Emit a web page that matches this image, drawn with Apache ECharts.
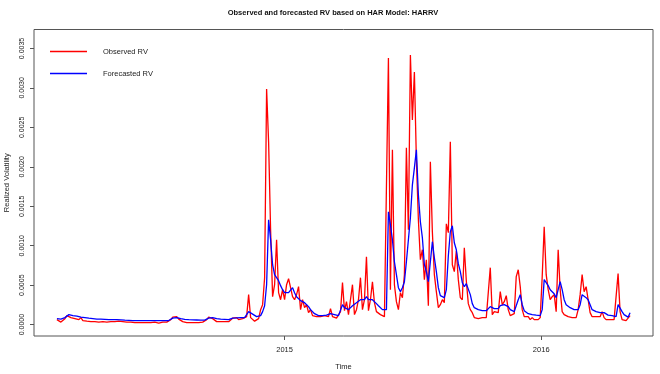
<!DOCTYPE html>
<html>
<head>
<meta charset="utf-8">
<script src="https://cdn.jsdelivr.net/npm/echarts@6/dist/echarts.min.js"></script>
<style>html,body{margin:0;padding:0;background:#fff}#c{width:660px;height:374px}</style>
</head>
<body>
<div id="c"></div>
<script>
// Regular time series: first observation (fractional year) and spacing
const startYear = 2014.1128;
const stepYear = 0.007782;
const xTickLabels = [2015, 2016];
const yTickValues = [0, 0.0005, 0.001, 0.0015, 0.002, 0.0025, 0.003, 0.0035];
const seriesNames = ['Observed RV', 'Forecasted RV'];

const observedRV = [
0.000063,0.000038,0.000032,0.000051,0.000076,0.000114,0.000133,0.000089,0.000114,0.000076,0.000101,0.000063,
0.000089,0.000051,0.000076,0.000044,0.000063,0.000038,0.000057,0.000038,0.000044,0.000032,0.000051,0.000038,
0.000044,0.000032,0.000044,0.000038,0.000025,0.000038,0.000032,0.000044,0.000032,0.000038,0.000025,0.000032,
0.000025,0.000032,0.000019,0.000025,0.000032,0.000025,0.000019,0.000025,0.000032,0.000025,0.000019,0.000025,
0.000025,0.000032,0.000025,0.000019,0.000025,0.000032,0.000025,0.000032,0.000038,0.000063,0.000095,0.000082,
0.000101,0.00007,0.000051,0.000038,0.000032,0.000025,0.000032,0.000025,0.000038,0.000025,0.000032,0.000025,
0.000038,0.000032,0.000038,0.000063,0.000095,0.000108,0.000076,0.000051,0.000038,0.000032,0.000038,0.000025,
0.000038,0.000032,0.000038,0.000063,0.000082,0.00007,0.000089,0.000063,0.000082,0.000076,0.000089,0.000101,
0.00038,0.000089,0.000076,0.000044,0.000051,0.000076,0.00019,0.000253,0.000595,0.002987,0.002316,0.001203,
0.000354,0.000506,0.001076,0.000405,0.000316,0.000443,0.000316,0.000506,0.000582,0.00057,0.000354,0.000316,
0.00038,0.000481,0.00019,0.000316,0.000215,0.000253,0.000152,0.00019,0.000114,0.000089,0.000101,0.000082,
0.000101,0.000089,0.000114,0.000089,0.000101,0.000203,0.000101,0.000089,0.000082,0.000101,0.000165,0.000532,
0.000177,0.000291,0.000127,0.000139,0.000506,0.000127,0.00019,0.000316,0.000595,0.00019,0.000316,0.000861,
0.000177,0.000316,0.000544,0.000278,0.000165,0.00019,0.000127,0.000152,0.000101,0.000114,0.00338,0.000443,
0.002215,0.000506,0.000291,0.00019,0.000405,0.000342,0.000633,0.00224,0.001203,0.003418,0.002595,0.003202,
0.002089,0.001329,0.000823,0.000949,0.00057,0.000823,0.00024,0.002063,0.001177,0.000633,0.000418,0.000215,
0.000253,0.000316,0.000278,0.001278,0.001165,0.002316,0.000759,0.000671,0.000937,0.00057,0.000342,0.000316,
0.000975,0.000557,0.000266,0.00019,0.000152,0.000089,0.000114,0.000076,0.000101,0.000089,0.000101,0.000089,
0.000114,0.000722,0.000127,0.000165,0.000177,0.000152,0.000418,0.000253,0.000291,0.000367,0.00019,0.000114,
0.000089,0.000139,0.000608,0.000696,0.000481,0.00019,0.000101,0.000076,0.000101,0.000063,0.000089,0.000063,
0.000082,0.000063,0.000089,0.000608,0.00124,0.000633,0.000443,0.000316,0.000354,0.00038,0.000165,0.000949,
0.000443,0.000165,0.000127,0.000114,0.000101,0.000114,0.000089,0.000101,0.000089,0.00019,0.00038,0.000633,
0.000418,0.000481,0.000316,0.000152,0.000101,0.000089,0.000101,0.000089,0.000101,0.000165,0.000089,0.000063,
0.000076,0.000063,0.00007,0.000063,0.000057,0.000646,0.000165,0.000063,0.000044,0.000051,0.000044,0.000114
];

const forecastedRV = [
0.000076,0.00007,0.00007,0.000076,0.000089,0.000108,0.000127,0.00012,0.000114,0.000101,0.000108,0.000095,
0.000095,0.000089,0.000089,0.000082,0.000082,0.000076,0.000076,0.000072,0.00007,0.00007,0.00007,0.000067,
0.000067,0.000063,0.000063,0.000063,0.000063,0.000063,0.000063,0.000061,0.000061,0.000059,0.000057,0.000057,
0.000054,0.000051,0.00005,0.000051,0.000052,0.000051,0.00005,0.000049,0.00005,0.000051,0.00005,0.000049,
0.00005,0.000051,0.00005,0.000049,0.00005,0.000051,0.00005,0.000051,0.000052,0.000063,0.000082,0.000095,
0.000089,0.000082,0.000076,0.00007,0.000067,0.000063,0.000063,0.000061,0.00006,0.000059,0.000059,0.000058,
0.000057,0.000057,0.000058,0.00007,0.000082,0.000095,0.000089,0.000082,0.000076,0.00007,0.00007,0.000067,
0.000067,0.000063,0.000063,0.00007,0.000082,0.000082,0.000085,0.000082,0.000089,0.000082,0.000089,0.000095,
0.000165,0.000152,0.000133,0.000114,0.000101,0.000101,0.000114,0.000165,0.00024,0.000506,0.001329,0.001076,
0.000759,0.000633,0.000595,0.000557,0.000494,0.000443,0.000405,0.00038,0.000405,0.00043,0.000468,0.000405,
0.000354,0.000342,0.000304,0.000291,0.000278,0.000253,0.000228,0.00019,0.000165,0.000139,0.000127,0.000114,
0.000108,0.000114,0.000127,0.00012,0.000127,0.000139,0.000152,0.000127,0.000114,0.000114,0.000139,0.000253,
0.000215,0.000228,0.00019,0.00019,0.00024,0.000215,0.000278,0.000291,0.000316,0.000291,0.000316,0.000354,
0.000316,0.000291,0.000316,0.000304,0.000266,0.00024,0.000215,0.00019,0.000177,0.00019,0.00143,0.001266,
0.001076,0.000797,0.000633,0.000468,0.000418,0.000468,0.000544,0.000797,0.001076,0.001354,0.001772,0.001987,
0.002215,0.001646,0.001304,0.001101,0.000759,0.000671,0.000544,0.000797,0.001051,0.000848,0.000671,0.000468,
0.000367,0.000342,0.000342,0.000443,0.000873,0.001177,0.001253,0.001038,0.000949,0.000772,0.000671,0.000532,
0.000481,0.000519,0.000544,0.00038,0.000266,0.000215,0.00019,0.00019,0.000177,0.000177,0.000171,0.000177,
0.00019,0.000228,0.00024,0.000203,0.00019,0.000203,0.00024,0.000253,0.000253,0.00024,0.000228,0.00019,
0.000177,0.000165,0.00019,0.000316,0.00038,0.000253,0.000177,0.000152,0.000139,0.000127,0.000127,0.000127,
0.00012,0.000114,0.000114,0.00019,0.00057,0.000595,0.000494,0.000443,0.000418,0.000392,0.000342,0.000367,
0.000544,0.000443,0.000316,0.000253,0.000228,0.000215,0.000203,0.00019,0.000177,0.00019,0.000253,0.00038,
0.000367,0.000342,0.000316,0.000253,0.00019,0.000177,0.000165,0.000165,0.000152,0.000165,0.000152,0.000127,
0.00012,0.000114,0.000114,0.000108,0.000101,0.000253,0.000228,0.000165,0.000127,0.000108,0.000095,0.000152
];

const timeIndex = observedRV.map((_, i) => startYear + i * stepYear);
const obsData = observedRV.map((v, i) => [timeIndex[i], v]);
const fcData = forecastedRV.map((v, i) => [timeIndex[i], v]);

const FONT = 'Liberation Sans, Arial, sans-serif';
const chart = echarts.init(document.getElementById('c'), null, {renderer: 'canvas'});
chart.setOption({
  animation: false,
  backgroundColor: '#ffffff',
  title: {
    text: 'Observed and forecasted RV based on HAR Model: HARRV',
    left: 333, top: 9, padding: 0, textAlign: 'center',
    textStyle: {fontFamily: FONT, fontSize: 7.5, fontWeight: 'bold', color: '#111'}
  },
  legend: [
    {data: [seriesNames[0]], left: 50, top: 47.5, padding: 0, orient: 'vertical',
     icon: 'rect', itemWidth: 37, itemHeight: 1.6, selectedMode: false,
     textStyle: {fontFamily: FONT, fontSize: 7.5, color: '#222', padding: [0, 0, 0, 11]}},
    {data: [seriesNames[1]], left: 50, top: 69.5, padding: 0, orient: 'vertical',
     icon: 'rect', itemWidth: 37, itemHeight: 1.6, selectedMode: false,
     textStyle: {fontFamily: FONT, fontSize: 7.5, color: '#222', padding: [0, 0, 0, 11]}}
  ],
  grid: {left: 34, right: 7, top: 29.5, bottom: 38, show: true, borderColor: '#555', borderWidth: 1,
    containLabel: false, outerBoundsMode: 'none'},
  xAxis: {
    type: 'value', min: 2014.0235, max: 2016.4356,
    splitLine: {show: false}, axisLine: {show: false, onZero: false},
    axisTick: {show: true, length: 4, customValues: xTickLabels, lineStyle: {color: '#555'}},
    axisLabel: {customValues: xTickLabels, formatter: v => String(Math.round(v)), margin: 10,
      fontFamily: FONT, fontSize: 7.5, color: '#222'},
    name: 'Time', nameLocation: 'middle', nameGap: 27,
    nameTextStyle: {fontFamily: FONT, fontSize: 7.5, color: '#222'}
  },
  yAxis: {
    type: 'value', min: -0.000144, max: 0.00374,
    splitLine: {show: false}, axisLine: {show: false, onZero: false},
    axisTick: {show: true, length: 4, customValues: yTickValues, lineStyle: {color: '#555'}},
    axisLabel: {customValues: yTickValues, rotate: 90, formatter: v => v.toFixed(4), margin: 8,
      fontFamily: FONT, fontSize: 7, color: '#222'},
    name: 'Realized Volatility', nameLocation: 'middle', nameGap: 21,
    nameTextStyle: {fontFamily: FONT, fontSize: 7.5, color: '#222'}
  },
  series: [
    {name: seriesNames[0], type: 'line', data: obsData, symbol: 'none', color: '#ff0000',
     lineStyle: {width: 1.3, color: '#ff0000'}},
    {name: seriesNames[1], type: 'line', data: fcData, symbol: 'none', color: '#0000ff',
     lineStyle: {width: 1.3, color: '#0000ff'}}
  ]
});
</script>
</body>
</html>
